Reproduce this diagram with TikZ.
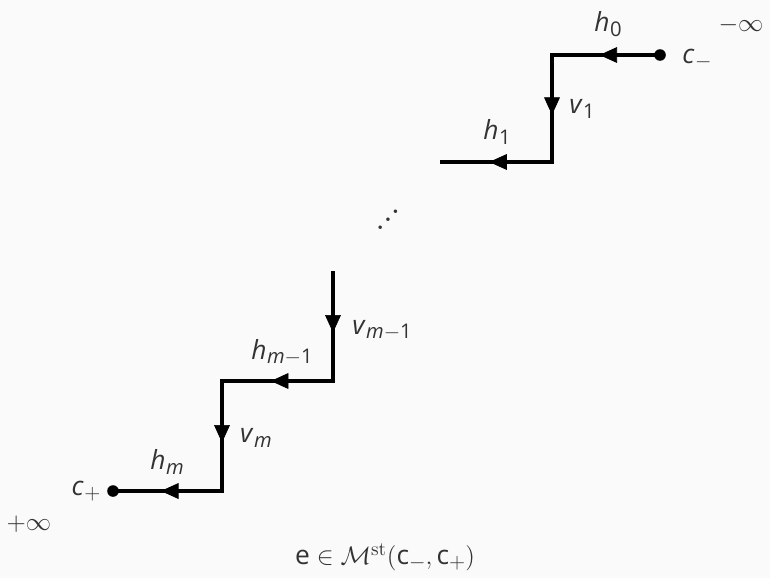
\documentclass[tikz,border=0pt]{standalone}
\usepackage[no-math]{fontspec}
\setmainfont{Open Sans}
\usepackage{xcolor}
\usetikzlibrary{arrows.meta, decorations.markings}

\definecolor{bgcol}{HTML}{FAFAFA}
\definecolor{txtcol}{HTML}{333333}
\newcommand{\sbs}[1]{\raisebox{-2.4pt}{\fontsize{11.5}{13}\selectfont #1}}
\newcommand{\lbl}[2]{\textit{#1}\kern0.3pt\sbs{#2}}
\newcommand{\mns}{$-$}
\newcommand{\pls}{$+$}
\newcommand{\pdot}{\makebox[4.3pt]{$.$}}
\newcommand{\updots}{{\fontsize{21}{21}\selectfont\mbox{\pdot\raisebox{4.5pt}{\pdot}\raisebox{9pt}{\pdot}}}}

\begin{document}
\begin{tikzpicture}[
  x=0.02cm, y=-0.02cm,
  wire/.style={line width=1.9pt, line join=miter},
  mid/.style={postaction={decorate}, decoration={markings,
              mark=at position 0.56 with {\arrow{Triangle[length=10pt,width=9pt]}}}},
  dot/.style={circle, fill, inner sep=0pt, minimum size=6.6pt},
  lab/.style={text=txtcol, font=\fontsize{15}{18}\selectfont, inner sep=1pt}
]
\fill[bgcol] (0,0) rectangle (770,578);
\useasboundingbox (0,0) rectangle (770,578);

% upper steps
\node[dot] (cm) at (660,55) {};
\coordinate (k1) at (552,55);
\coordinate (k2) at (552,162);
\coordinate (e1) at (440,162);
% lower steps
\coordinate (e2) at (333,271);
\coordinate (k3) at (333,381);
\coordinate (k4) at (222,381);
\coordinate (k5) at (222,491);
\node[dot] (cp) at (113,491) {};

\draw[wire] (cm.center) -- (k1) -- (k2) -- (e1);
\draw[wire] (e2) -- (k3) -- (k4) -- (k5) -- (cp.center);
\foreach \a/\b in {cm.center/k1,k1/k2,k2/e1,e2/k3,k3/k4,k4/k5,k5/cp.center}
  \path[mid] (\a) -- (\b);

% labels
\node[lab] (h0) at (608,24) {\lbl{h}{0}};
\node[lab] (cml) at (697,59) {\lbl{c}{\mns}};
\node[lab] (minf) at (741,25) {$-\infty$};
\node[lab] (v1) at (582,109) {\lbl{v}{1}};
\node[lab] (h1) at (497,132) {\lbl{h}{1}};
\node[lab] (dd) at (388,220) {\updots};
\node[lab] (vm1) at (382,330) {\lbl{v}{\textit{m}\mns1}};
\node[lab] (hm1) at (282,352) {\lbl{h}{\textit{m}\mns1}};
\node[lab] (vm) at (256,438) {\lbl{v}{\textit{m}}};
\node[lab] (hm) at (167,462) {\lbl{h}{\textit{m}}};
\node[lab] (cpl) at (86,491) {\lbl{c}{\pls}};
\node[lab] (pinf) at (29,524) {$+\infty$};
\node[lab] (cap) at (385,557) {e $\in\mathcal{M}^{\mathrm{st}}($c\sbs{\mns}$,\,$c\sbs{\pls}$)$};
\end{tikzpicture}
\end{document}
